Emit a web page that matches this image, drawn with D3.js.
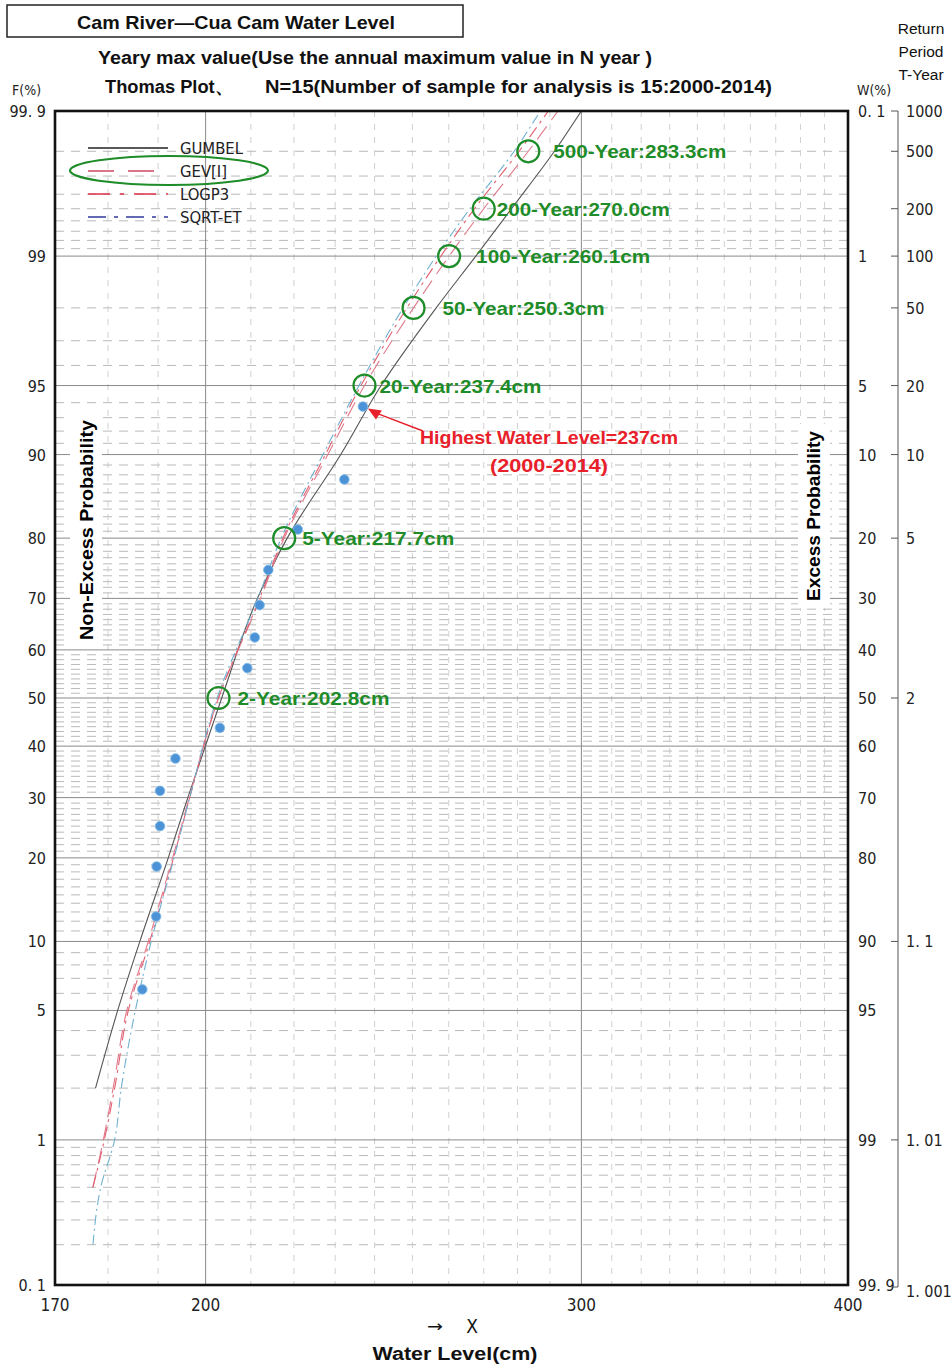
<!DOCTYPE html>
<html><head><meta charset="utf-8">
<script src="https://cdn.jsdelivr.net/npm/d3@7"></script>
<style>body{margin:0;background:#fff}svg{display:block}</style>
</head><body>
<svg id="c" width="952" height="1367"></svg>
<script>
// ---------------- DATA ----------------
const sampleF = [6.25,12.5,18.75,25,31.25,37.5,43.75,56.25,62.5,68.75,75,81.25,87.5,93.75];
const sampleLevel = [186.8,189.6,189.7,190.4,190.4,193.6,203.1,209.2,210.9,212.0,214.0,220.9,232.3,237.0];

const returnPeriods = [2,5,20,50,100,200,500];
const returnF = [50,80,95,98,99,99.5,99.8];
const returnLevels = [202.8,217.7,237.4,250.3,260.1,270.0,283.3];

const curveF = [0.2,0.5,1,2,5,10,20,30,50,70,80,90,95,98,99,99.5,99.8,99.9];
const gumbelLevels = [null,null,null,177.6,181.9,186.3,192.1,196.2,203.5,211.5,218.4,231.4,241.7,256.5,267.7,278.2,291.4,300.0];
const gevLevels    = [null,177.1,179.1,181.0,183.7,188.0,193.0,196.5,202.8,212.2,217.7,228.2,237.4,250.3,260.1,270.0,283.3,292.5];
const logp3Levels  = [null,177.1,179.3,181.3,184.0,188.3,193.2,196.6,202.8,212.0,217.4,227.6,236.5,248.5,257.8,267.3,280.5,289.5];
const sqrtetLevels = [177.1,178.6,181.3,182.6,185.4,188.6,193.3,196.6,202.5,211.6,217.0,227.0,236.0,247.5,256.5,266.0,279.0,287.0];

const majorF = [99,95,90,80,70,60,50,40,30,20,10,5,1];
const minorF = [99.8,99.7,99.6,99.5,99.4,99.3,99.2,99.1,98,97,96,94,93,92,91,
  89,88,87,86,85,84,83,82,81,79,78,77,76,75,74,73,72,71,69,68,67,66,65,64,63,62,61,
  59,58,57,56,55,54,53,52,51,49,48,47,46,45,44,43,42,41,39,38,37,36,35,34,33,32,31,
  29,28,27,26,25,24,23,22,21,19,18,17,16,15,14,13,12,11,9,8,7,6,4,3,2,
  0.9,0.8,0.7,0.6,0.5,0.4,0.3,0.2];
const majorX = [200,300];
const minorX = [180,190,210,220,230,240,250,260,270,280,290,310,320,330,340,350,360,370,380,390];

const leftTickF = [99.9,99,95,90,80,70,60,50,40,30,20,10,5,1,0.1];
const leftTickText = ["99. 9","99","95","90","80","70","60","50","40","30","20","10","5","1","0. 1"];
const rightTickText = ["0. 1","1","5","10","20","30","40","50","60","70","80","90","95","99","99. 9"];
const tTickF = [99.9,99.8,99.5,99,98,95,90,80,50,10,1,0.1];
const tTickText = ["1000","500","200","100","50","20","10","5","2","1. 1","1. 01","1. 001"];
const xTicks = [170,200,300,400];

const legendNames = ["GUMBEL","GEV[I]","LOGP3","SQRT-ET"];

// ---------------- HELPERS ----------------
function qnorm(p){
  const a=[-3.969683028665376e+01,2.209460984245205e+02,-2.759285104469687e+02,1.383577518672690e+02,-3.066479806614716e+01,2.506628277459239e+00];
  const b=[-5.447609879822406e+01,1.615858368580409e+02,-1.556989798598866e+02,6.680131188771972e+01,-1.328068155288572e+01];
  const c=[-7.784894002430293e-03,-3.223964580411365e-01,-2.400758277161838e+00,-2.549732539343734e+00,4.374664141464968e+00,2.938163982698783e+00];
  const d=[7.784695709041462e-03,3.224671290700398e-01,2.445134137142996e+00,3.754408661907416e+00];
  const pl=0.02425, ph=1-pl; let q,r;
  if(p<pl){q=Math.sqrt(-2*Math.log(p));return (((((c[0]*q+c[1])*q+c[2])*q+c[3])*q+c[4])*q+c[5])/((((d[0]*q+d[1])*q+d[2])*q+d[3])*q+1);}
  if(p<=ph){q=p-0.5;r=q*q;return (((((a[0]*r+a[1])*r+a[2])*r+a[3])*r+a[4])*r+a[5])*q/(((((b[0]*r+b[1])*r+b[2])*r+b[3])*r+b[4])*r+1);}
  q=Math.sqrt(-2*Math.log(1-p));return -(((((c[0]*q+c[1])*q+c[2])*q+c[3])*q+c[4])*q+c[5])/((((d[0]*q+d[1])*q+d[2])*q+d[3])*q+1);
}

const X0=55, X1=848, Y0=111, Y1=1285;
const x = d3.scaleLog().domain([170,400]).range([X0,X1]);
const zScale = d3.scaleLinear().domain([qnorm(0.001), qnorm(0.999)]).range([Y1,Y0]);
const y = F => zScale(qnorm(F/100));

const svg = d3.select("#c");
const NARROW = "'Liberation Sans Narrow','DejaVu Sans Condensed',sans-serif";
const SANS = "'Liberation Sans',Arial,sans-serif";

svg.append("rect").attr("width",952).attr("height",1367).attr("fill","#fff");

const grid = svg.append("g");
grid.selectAll(".hm").data(minorF).join("line")
  .attr("x1",X0).attr("x2",X1).attr("y1",d=>y(d)).attr("y2",d=>y(d))
  .attr("stroke","#a8a8a8").attr("stroke-width",0.8).attr("stroke-dasharray","9,7");
grid.selectAll(".vm").data(minorX).join("line")
  .attr("x1",d=>x(d)).attr("x2",d=>x(d)).attr("y1",Y0).attr("y2",Y1)
  .attr("stroke","#c4c4c4").attr("stroke-width",0.8).attr("stroke-dasharray","6,7");
grid.selectAll(".hM").data(majorF).join("line")
  .attr("x1",X0).attr("x2",X1).attr("y1",d=>y(d)).attr("y2",d=>y(d))
  .attr("stroke","#8a8a8a").attr("stroke-width",1);
grid.selectAll(".vM").data(majorX).join("line")
  .attr("x1",d=>x(d)).attr("x2",d=>x(d)).attr("y1",Y0).attr("y2",Y1)
  .attr("stroke","#8a8a8a").attr("stroke-width",1);

svg.append("rect").attr("x",70).attr("y",412).attr("width",32).attr("height",236).attr("fill","#fff");
svg.append("rect").attr("x",798).attr("y",424).attr("width",32).attr("height",184).attr("fill","#fff");
svg.append("text").attr("transform","translate(93,530) rotate(-90)")
  .attr("text-anchor","middle").attr("font-family",SANS).attr("font-weight","bold")
  .attr("font-size",19).attr("textLength",220).attr("lengthAdjust","spacingAndGlyphs")
  .text("Non-Excess Probability");
svg.append("text").attr("transform","translate(820,516) rotate(-90)")
  .attr("text-anchor","middle").attr("font-family",SANS).attr("font-weight","bold")
  .attr("font-size",19).attr("textLength",170).attr("lengthAdjust","spacingAndGlyphs")
  .text("Excess Probability");

// ---------------- CURVES ----------------
const series = [
  {levels:gumbelLevels, color:"#555", dash:null, legColor:"#222", legDash:null},
  {levels:gevLevels, color:"#e07a8c", dash:"16,8", legColor:"#d04a64", legDash:"26,14"},
  {levels:logp3Levels, color:"#e06070", dash:"12,5,3,5", legColor:"#e0304a", legDash:"22,10,4,10"},
  {levels:sqrtetLevels, color:"#70b0d0", dash:"10,4,2,4", legColor:"#303a9a", legDash:"18,8,4,8"}
];
const line = d3.line().defined(d=>d[1]!=null).x(d=>x(d[1])).y(d=>y(d[0])).curve(d3.curveMonotoneY);
svg.append("defs").append("clipPath").attr("id","pc").append("rect")
  .attr("x",X0).attr("y",Y0).attr("width",X1-X0).attr("height",Y1-Y0);
const cg = svg.append("g").attr("clip-path","url(#pc)");
series.forEach(s=>{
  cg.append("path").datum(curveF.map((f,i)=>[f,s.levels[i]]))
    .attr("d",line).attr("fill","none").attr("stroke",s.color).attr("stroke-width",1.1)
    .attr("stroke-dasharray",s.dash);
});

// ---------------- LEGEND ----------------
const lg = svg.append("g");
legendNames.forEach((n,i)=>{
  const ly = 148 + i*23;
  lg.append("line").attr("x1",88).attr("x2",168).attr("y1",ly).attr("y2",ly)
    .attr("stroke",series[i].legColor).attr("stroke-width",1.6).attr("stroke-dasharray",series[i].legDash);
  lg.append("text").attr("x",180).attr("y",ly+6).attr("font-family",NARROW).attr("font-size",16.5)
    .attr("fill","#222").text(n);
});
lg.append("ellipse").attr("cx",169).attr("cy",170.5).attr("rx",99).attr("ry",14.5)
  .attr("fill","none").attr("stroke","#1e8c28").attr("stroke-width",2.2);

// ---------------- POINTS ----------------
const pg = svg.append("g");
pg.selectAll("circle").data(sampleF.map((f,i)=>[f,sampleLevel[i]])).join("circle")
  .attr("cx",d=>x(d[1])).attr("cy",d=>y(d[0])).attr("r",4.8)
  .attr("fill","#4b93d6").attr("stroke","#86bce8").attr("stroke-width",0.9);

// ---------------- RETURN-PERIOD ANNOTATIONS ----------------
const labelDx = [19,18,15,29,27,13,25];
const labelW = [152,152,162,162,174,173,173];
const ag = svg.append("g");
returnPeriods.forEach((T,i)=>{
  const cx = x(returnLevels[i]), cy = y(returnF[i]);
  ag.append("circle").attr("cx",cx).attr("cy",cy).attr("r",11)
    .attr("fill","none").attr("stroke","#1e8c28").attr("stroke-width",2.2);
  ag.append("text").attr("x",cx+labelDx[i]).attr("y",cy+7)
    .attr("font-family",SANS).attr("font-size",19).attr("font-weight","bold")
    .attr("fill","#1e8c28").attr("textLength",labelW[i]).attr("lengthAdjust","spacingAndGlyphs")
    .text(T+"-Year:"+returnLevels[i].toFixed(1)+"cm");
});

const hx = x(sampleLevel[sampleLevel.length-1]), hy = y(sampleF[sampleF.length-1]);
ag.append("line").attr("x1",423).attr("y1",431).attr("x2",hx+12).attr("y2",hy+6)
  .attr("stroke","#e8202a").attr("stroke-width",1.4);
ag.append("path").attr("d",`M${hx+5},${hy+2} l14,2 l-6,9 z`).attr("fill","#e8202a");
ag.append("text").attr("x",420).attr("y",444).attr("font-family",SANS).attr("font-size",19)
  .attr("font-weight","bold").attr("fill","#e8202a")
  .attr("textLength",258).attr("lengthAdjust","spacingAndGlyphs").text("Highest Water Level=237cm");
ag.append("text").attr("x",490).attr("y",472).attr("font-family",SANS)
  .attr("font-size",19).attr("font-weight","bold").attr("fill","#e8202a")
  .attr("textLength",118).attr("lengthAdjust","spacingAndGlyphs").text("(2000-2014)");

// ---------------- FRAME ----------------
svg.append("rect").attr("x",X0).attr("y",Y0).attr("width",X1-X0).attr("height",Y1-Y0)
  .attr("fill","none").attr("stroke","#111").attr("stroke-width",2.6);

// ---------------- AXES TEXT ----------------
const ax = svg.append("g").attr("font-family",NARROW).attr("font-size",16).attr("fill","#222");
leftTickF.forEach((f,i)=>{
  ax.append("text").attr("x",46).attr("y",y(f)+6).attr("text-anchor","end").text(leftTickText[i]);
  ax.append("text").attr("x",858).attr("y",y(f)+6).text(rightTickText[i]);
});
ax.append("text").attr("x",12).attr("y",95).attr("font-size",14).text("F(%)");
ax.append("text").attr("x",857).attr("y",95).attr("font-size",14).text("W(%)");
xTicks.forEach(v=>{
  ax.append("text").attr("x",x(v)).attr("y",1311).attr("text-anchor","middle").attr("font-size",17).text(v);
});
const TX = 898;
ax.append("line").attr("x1",TX).attr("x2",TX).attr("y1",Y0).attr("y2",Y1+2).attr("stroke","#555").attr("stroke-width",1);
tTickF.forEach((f,i)=>{
  const ty = (i===tTickF.length-1)? Y1+2 : y(f);
  ax.append("line").attr("x1",TX-7).attr("x2",TX).attr("y1",ty).attr("y2",ty).attr("stroke","#555");
  ax.append("text").attr("x",906).attr("y",ty+(i===tTickF.length-1?10:6)).text(tTickText[i]);
});
const rp = svg.append("g").attr("font-family",SANS).attr("font-size",15.5).attr("fill","#111").attr("text-anchor","middle");
rp.append("text").attr("x",921).attr("y",34).text("Return");
rp.append("text").attr("x",921).attr("y",57).text("Period");
rp.append("text").attr("x",921).attr("y",80).text("T-Year");

// ---------------- TITLES ----------------
svg.append("rect").attr("x",7).attr("y",5).attr("width",456).attr("height",32)
  .attr("fill","none").attr("stroke","#222").attr("stroke-width",1.5);
const tg = svg.append("g").attr("font-family",SANS).attr("fill","#111");
tg.append("text").attr("x",77).attr("y",29).attr("font-size",19).attr("font-weight","bold")
  .attr("textLength",318).attr("lengthAdjust","spacingAndGlyphs").text("Cam River\u2014Cua Cam Water Level");
tg.append("text").attr("x",98).attr("y",64).attr("font-size",18).attr("font-weight","bold")
  .attr("textLength",554).attr("lengthAdjust","spacingAndGlyphs").text("Yeary max value(Use the annual maximum value in N year )");
tg.append("text").attr("x",105).attr("y",93).attr("font-size",18).attr("font-weight","bold")
  .attr("textLength",128).attr("lengthAdjust","spacingAndGlyphs").text("Thomas Plot\u3001");
tg.append("text").attr("x",265).attr("y",93).attr("font-size",18).attr("font-weight","bold")
  .attr("textLength",507).attr("lengthAdjust","spacingAndGlyphs").text("N=15(Number of sample for analysis is 15:2000-2014)");
tg.append("text").attr("x",435).attr("y",1332).attr("text-anchor","middle").attr("font-family","'DejaVu Sans',sans-serif")
  .attr("font-size",16).attr("textLength",16).attr("lengthAdjust","spacingAndGlyphs").text("\u2192");
tg.append("text").attr("x",472).attr("y",1333).attr("text-anchor","middle").attr("font-family",NARROW).attr("font-size",19).text("X");
tg.append("text").attr("x",455).attr("y",1360).attr("text-anchor","middle").attr("font-size",18).attr("font-weight","bold")
  .attr("textLength",165).attr("lengthAdjust","spacingAndGlyphs").text("Water  Level(cm)");
</script>
</body></html>
